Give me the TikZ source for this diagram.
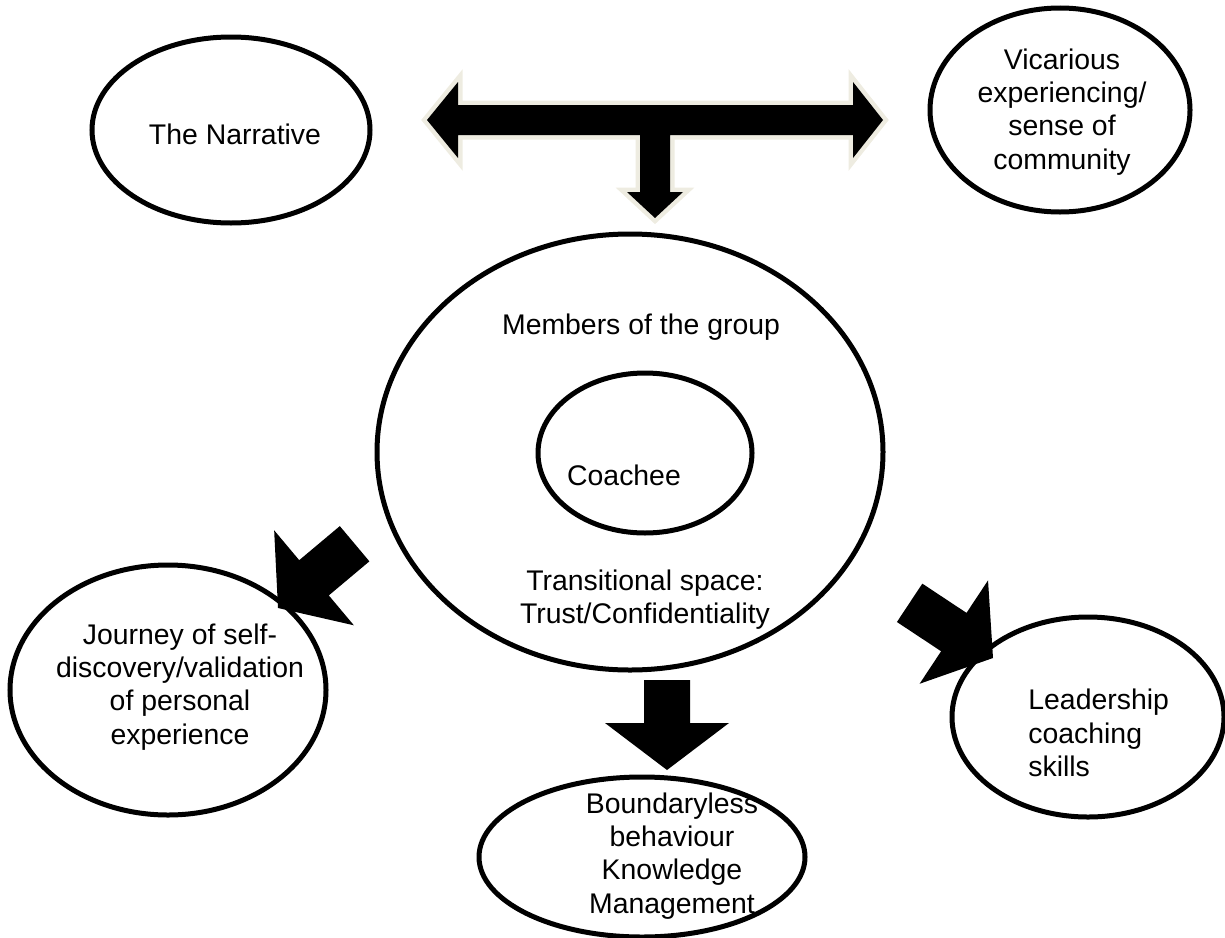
\documentclass[tikz,border=0pt]{standalone}
\usepackage{fontspec}
\setmainfont{Liberation Sans}
\usetikzlibrary{shapes.geometric,positioning}
\definecolor{ArrowRim}{HTML}{EEECE1}

\begin{document}
\begin{tikzpicture}[x=0.5pt, y=-0.5pt,
  bubble/.style={draw=black, line width=2.5pt, ellipse, inner sep=0pt},
  words/.style={font=\fontsize{14.2}{16.6}\selectfont, align=center, inner sep=0pt}]
\useasboundingbox (0,0) rectangle (1225,937);

% Ellipses
\node[bubble, minimum width=139pt, minimum height=93pt] (narr) at (231,130) {};
\node[bubble, minimum width=130pt, minimum height=102pt] (vic) at (1060,110) {};
\node[bubble, minimum width=253pt, minimum height=218pt] (group) at (630,452) {};
\node[bubble, minimum width=107pt, minimum height=80pt] (coachee) at (645,453) {};
\node[bubble, minimum width=158pt, minimum height=125pt] (journey) at (168,690) {};
\node[bubble, minimum width=136pt, minimum height=100pt] (lead) at (1088,717) {};
\node[bubble, minimum width=163pt, minimum height=80pt] (bound) at (642,857) {};

% Texts
\node[words] (narrtxt) at (235,134) {The Narrative};
\node[words] (victxt) at (1062,112) {Vicarious\\experiencing/\\sense of\\community};
\node[words] (membtxt) at (641,327) {Members of the group};
\node[words] (coachtxt) at (624,475) {Coachee};
\node[words] (transtxt) at (645,600) {Transitional space:\\Trust/Confidentiality};
\node[words] (journtxt) at (180,687) {Journey of self-\\discovery/validation\\of personal\\experience};
\node[words, anchor=west, align=left] (leadtxt) at (1028,733) {Leadership\\coaching\\skills};
\node[words] (boundtxt) at (672,856) {Boundaryless\\behaviour\\Knowledge\\Management};

% T-shaped double arrow at the top
\path[draw=ArrowRim, line width=4.5pt, line join=miter, fill=black]
  (427,120) -- (458,82) -- (458,105) -- (853,105) -- (853,82) -- (883,120)
  -- (853,158) -- (853,135) -- (670,135) -- (670,192) -- (683,192)
  -- (655,218) -- (627,192) -- (640,192) -- (640,135) -- (458,135)
  -- (458,158) -- cycle;
\fill[black]
  (427,120) -- (458,82) -- (458,105) -- (853,105) -- (853,82) -- (883,120)
  -- (853,158) -- (853,135) -- (670,135) -- (670,192) -- (683,192)
  -- (655,218) -- (627,192) -- (640,192) -- (640,135) -- (458,135)
  -- (458,158) -- cycle;

% Block arrows out of the group
\foreach \tx/\ty/\ang/\len in {667/770/-90/90, 993/658/-33.5/100, 278/608/-140/100}
{
  \fill[black, shift={(\tx,\ty)}, rotate=\ang]
    (0,0) -- (-47,62) -- (-47,23) -- (-\len,23) -- (-\len,-23)
    -- (-47,-23) -- (-47,-62) -- cycle;
}
\end{tikzpicture}
\end{document}
